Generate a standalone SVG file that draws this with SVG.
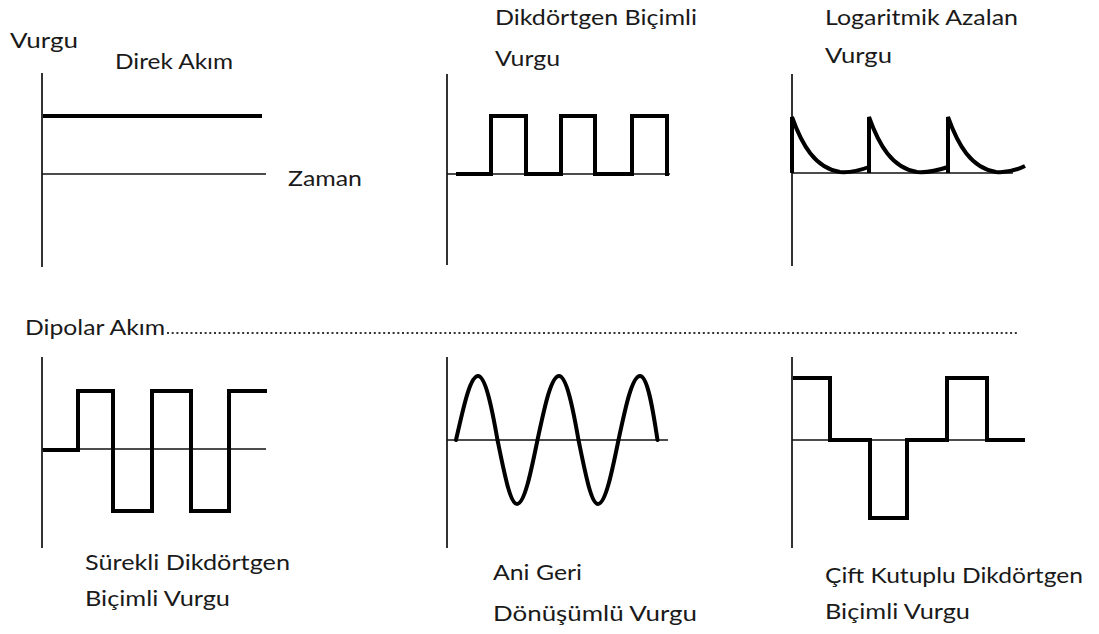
<svg xmlns="http://www.w3.org/2000/svg" width="1099" height="634" viewBox="0 0 1099 634">
<style>
.t{font-family:Lato,"Open Sans","Liberation Sans",sans-serif;font-size:22px;fill:#1a1a1a}
.ax{stroke:#333;stroke-width:2;fill:none}
.bl{stroke:#111;stroke-width:1.6;fill:none}
.sig{stroke:#000;stroke-width:4;fill:none;stroke-linejoin:miter;stroke-linecap:square}
.dots{stroke:#333;stroke-width:2;stroke-dasharray:2 2.7;fill:none}
</style>
<rect width="1099" height="634" fill="#fff"/>
<g id="panel-direk-akim">
<line class="ax" x1="42" y1="73" x2="42" y2="267"/>
<line class="bl" x1="42" y1="174" x2="266" y2="174"/>
<line class="sig" x1="43" y1="116" x2="262" y2="116" style="stroke-linecap:butt"/>
<text class="t" x="10" y="48" textLength="68" lengthAdjust="spacingAndGlyphs">Vurgu</text>
<text class="t" x="115" y="69" textLength="118" lengthAdjust="spacingAndGlyphs">Direk Akım</text>
<text class="t" x="288" y="186" textLength="74" lengthAdjust="spacingAndGlyphs">Zaman</text>
</g>
<g id="panel-dikdortgen">
<line class="ax" x1="447" y1="74" x2="447" y2="265"/>
<line class="bl" x1="447" y1="174" x2="670" y2="174"/>
<path class="sig" d="M458,174 H491 V116 H526 V174 H561 V116 H595 V174 H632 V116 H667 V174"/>
<text class="t" x="495" y="25" textLength="202" lengthAdjust="spacingAndGlyphs">Dikdörtgen Biçimli</text>
<text class="t" x="495" y="66" textLength="65" lengthAdjust="spacingAndGlyphs">Vurgu</text>
</g>
<g id="panel-logaritmik">
<line class="ax" x1="792" y1="74" x2="792" y2="266"/>
<line class="bl" x1="792" y1="173" x2="1013" y2="173"/>
<path class="sig" style="stroke-linecap:butt" d="M792,173 V117 C802,145 815,168 840,172 C852,173 861,170 869,167 M869,173 V117 C879,145 892,168 917,172 C929,173 939,170 948,167 M948,173 V117 C958,145 971,168 996,172 C1008,173 1017,170 1025,166"/>
<text class="t" x="825" y="25" textLength="193" lengthAdjust="spacingAndGlyphs">Logaritmik Azalan</text>
<text class="t" x="825" y="63" textLength="67" lengthAdjust="spacingAndGlyphs">Vurgu</text>
</g>
<g id="dipolar-header">
<text class="t" x="25" y="335" textLength="140" lengthAdjust="spacingAndGlyphs">Dipolar Akım</text>
<line class="dots" x1="167" y1="333" x2="945" y2="333"/>
<line class="dots" x1="949" y1="333" x2="1019" y2="333"/>
</g>
<g id="panel-surekli">
<line class="ax" x1="42" y1="357" x2="42" y2="548"/>
<line class="bl" x1="42" y1="449" x2="266" y2="449"/>
<path class="sig" style="stroke-linecap:butt" d="M43,450 H78 V391 H113 V511 H152 V391 H191 V511 H229 V391 H267"/>
<text class="t" x="85" y="570" textLength="205" lengthAdjust="spacingAndGlyphs">Sürekli Dikdörtgen</text>
<text class="t" x="85" y="606" textLength="145" lengthAdjust="spacingAndGlyphs">Biçimli Vurgu</text>
</g>
<g id="panel-ani-geri">
<line class="ax" x1="447" y1="357" x2="447" y2="548"/>
<line class="bl" x1="447" y1="440" x2="668" y2="440"/>
<path class="sig" style="stroke-linecap:round" d="M456,440 c7.5,-32.8 14,-64 22,-64 c7.4,0 13.8,31.2 19.5,64 c6.7,32.8 12.6,64 19.5,64 c7.4,0 13.8,-31.2 20.5,-64 c7,-32.8 13.6,-64 21.5,-64 c7.4,0 13.8,31.2 19.5,64 c6.7,32.8 12.6,64 19.5,64 c7.4,0 13.8,-31.2 20.5,-64 c7,-32.8 13.6,-64 21.5,-64 c7.4,0 12.6,31.2 17.5,64"/>
<text class="t" x="493" y="580" textLength="89" lengthAdjust="spacingAndGlyphs">Ani Geri</text>
<text class="t" x="493" y="621" textLength="204" lengthAdjust="spacingAndGlyphs">Dönüşümlü Vurgu</text>
</g>
<g id="panel-cift-kutuplu">
<line class="ax" x1="792" y1="357" x2="792" y2="548"/>
<line class="bl" x1="792" y1="440" x2="1025" y2="440"/>
<path class="sig" style="stroke-linecap:butt" d="M793,378 H830 V440 H870 V518 H907 V440 H947 V378 H987 V440 H1025"/>
<text class="t" x="825" y="583" textLength="258" lengthAdjust="spacingAndGlyphs">Çift Kutuplu Dikdörtgen</text>
<text class="t" x="825" y="619" textLength="145" lengthAdjust="spacingAndGlyphs">Biçimli Vurgu</text>
</g>
</svg>
